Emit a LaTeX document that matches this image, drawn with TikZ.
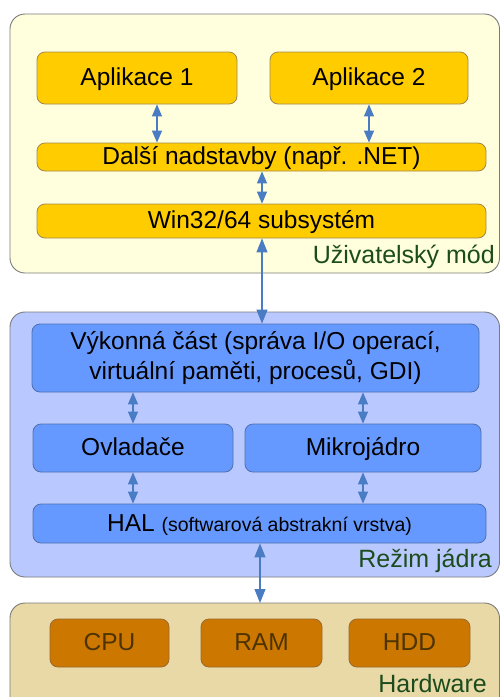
\documentclass[tikz,border=0pt]{standalone}
\usepackage{fontspec}
\setmainfont{Liberation Sans}
\usetikzlibrary{arrows.meta}
\definecolor{userbg}{HTML}{FFFFDD}
\definecolor{kernbg}{HTML}{B9C9FF}
\definecolor{hwbg}{HTML}{E9D9A7}
\definecolor{ybox}{HTML}{FFCC00}
\definecolor{ybord}{HTML}{A08850}
\definecolor{bbox}{HTML}{6699FF}
\definecolor{bbord}{HTML}{4F6FAF}
\definecolor{obox}{HTML}{CC7700}
\definecolor{obord}{HTML}{9A6A30}
\definecolor{otext}{HTML}{4C3300}
\definecolor{lblgreen}{HTML}{1C4C1C}
\definecolor{arrblue}{HTML}{4A7CC4}
\definecolor{contbord}{HTML}{7A7A7A}
\tikzset{
  container/.style={draw=contbord, line width=0.9pt, rounded corners=15pt},
  boxbase/.style={rounded corners=8pt, line width=0.8pt, inner sep=0pt, align=center,
    font=\fontsize{24.5}{30}\selectfont},
  oneline/.style={text height=17.5pt, text depth=2.5pt},
  yellowbox/.style={boxbase, fill=ybox, draw=ybord},
  bluebox/.style={boxbase, fill=bbox, draw=bbord},
  orangebox/.style={boxbase, fill=obox, draw=obord, text=otext},
  modelabel/.style={anchor=base east, text=lblgreen, font=\fontsize{25}{30}\selectfont, inner sep=0pt},
  biarrow/.style={draw=arrblue, line width=1.1pt,
    {Triangle[width=10pt,length=12pt,fill=arrblue]}-{Triangle[width=10pt,length=12pt,fill=arrblue]}},
  bigarrow/.style={draw=arrblue, line width=1.1pt,
    {Triangle[width=11pt,length=14pt,fill=arrblue]}-{Triangle[width=11pt,length=14pt,fill=arrblue]}},
}
\begin{document}
\begin{tikzpicture}[x=1pt,y=-1pt]
\useasboundingbox (0,0) rectangle (500,697);
% containers
\path[container, fill=userbg] (10,14) rectangle (499.5,273);
\path[container, fill=kernbg] (10,312) rectangle (499.5,577);
\path[container, fill=hwbg] (10,603) rectangle (499.5,720);
% user mode
\node[yellowbox, oneline, minimum width=200pt, minimum height=52pt] (app1) at (137,78) {Aplikace 1};
\node[yellowbox, oneline, minimum width=198pt, minimum height=52pt] (app2) at (369,78) {Aplikace 2};
\node[yellowbox, oneline, minimum width=449pt, minimum height=28pt] (extra) at (261.5,157) {Další nadstavby (např. .NET)};
\node[yellowbox, oneline, minimum width=449pt, minimum height=34pt] (win) at (261.5,221) {Win32/64 subsystém};
\node[modelabel] (lbluser) at (495,263) {Uživatelský mód};
% kernel mode
\node[bluebox, minimum width=447pt, minimum height=68pt] (exec) at (255.5,358)
  {Výkonná část (správa I/O operací,\\virtuální paměti, procesů, GDI)};
\node[bluebox, oneline, minimum width=200pt, minimum height=48pt] (drv) at (133,448) {Ovladače};
\node[bluebox, oneline, minimum width=236pt, minimum height=48pt] (micro) at (363,448) {Mikrojádro};
\node[bluebox, oneline, minimum width=453pt, minimum height=39pt] (hal) at (259.5,523.5)
  {HAL {\fontsize{19.5}{22}\selectfont (softwarová abstrakní vrstva)}};
\node[modelabel] (lblkern) at (492,567) {Režim jádra};
% hardware
\node[orangebox, oneline, minimum width=119pt, minimum height=48pt] (cpu) at (109.5,643) {CPU};
\node[orangebox, oneline, minimum width=121pt, minimum height=48pt] (ram) at (261.5,643) {RAM};
\node[orangebox, oneline, minimum width=121pt, minimum height=48pt] (hdd) at (409.5,643) {HDD};
\node[modelabel] (lblhw) at (487,692) {Hardware};
% arrow x positions
\coordinate (xa) at (157,0);
\coordinate (xb) at (369,0);
\coordinate (xc) at (262,0);
\coordinate (xd) at (133,0);
\coordinate (xe) at (363,0);
\coordinate (xf) at (260,0);
\coordinate (hwtop) at (260,603);
% arrows
\draw[biarrow] (app1.south -| xa) -- (extra.north -| xa);
\draw[biarrow] (app2.south -| xb) -- (extra.north -| xb);
\draw[biarrow] (extra.south -| xc) -- (win.north -| xc);
\draw[bigarrow] (win.south -| xc) -- (exec.north -| xc);
\draw[biarrow] (exec.south -| xd) -- (drv.north -| xd);
\draw[biarrow] (exec.south -| xe) -- (micro.north -| xe);
\draw[biarrow] (drv.south -| xd) -- (hal.north -| xd);
\draw[biarrow] (micro.south -| xe) -- (hal.north -| xe);
\draw[bigarrow] (hal.south -| xf) -- (hwtop);
\end{tikzpicture}
\end{document}
